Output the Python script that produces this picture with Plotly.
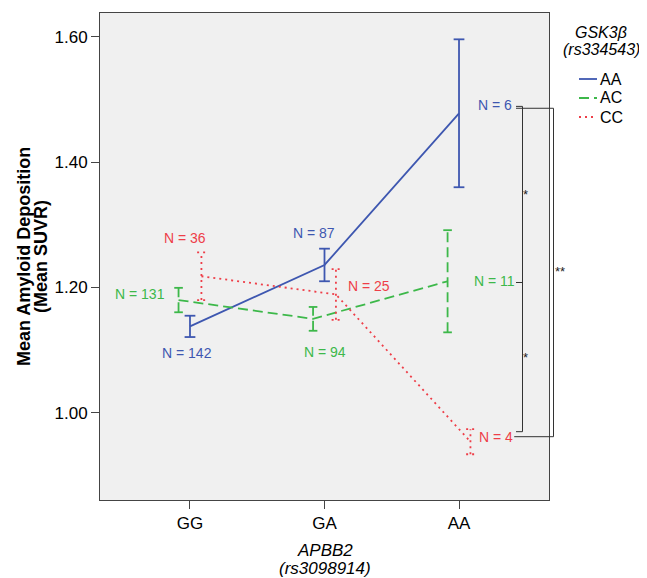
import plotly.graph_objects as go

# ---- data ----
categories = ["GG", "GA", "AA"]
series_names = ["AA", "AC", "CC"]
aa_mean = [1.138, 1.236, 1.478]
aa_err = [0.017, 0.026, 0.118]
ac_mean = [1.180, 1.150, 1.210]
ac_err = [0.0195, 0.019, 0.0815]
cc_mean = [1.218, 1.189, 0.954]
cc_err = [0.038, 0.0405, 0.020]
aa_n = [142, 87, 6]
ac_n = [131, 94, 11]
cc_n = [36, 25, 4]
y_ticks = [1.00, 1.20, 1.40, 1.60]
sig_labels = ["*", "*", "**"]
legend_title = ["GSK3β", "(rs334543)"]
y_title = ["Mean Amyloid Deposition", "(Mean SUVR)"]
x_title = ["APBB2", "(rs3098914)"]

FONT = "Liberation Sans, Arial, sans-serif"
BLUE = "#3E57B0"
GREEN = "#3DB84A"
RED = "#EE3E48"

# layout geometry (page has an ~8px body margin, so the figure is drawn 8px smaller)
W, H = 639, 570
ML, MT, PW, PH = 92, 5, 449, 487
PAGE_OFF = 8


def px(xp):
    """page pixel x -> paper x"""
    return (xp - PAGE_OFF - ML) / PW


def py(yp):
    """page pixel y -> paper y"""
    return 1 - (yp - PAGE_OFF - MT) / PH


styles = [
    dict(name="AA", mean=aa_mean, err=aa_err, n=aa_n, color=BLUE, dash="solid", off=0.0, cap=0.04,
         shifts=[(-3, -27), (-11, 32), (36, 8)]),
    dict(name="AC", mean=ac_mean, err=ac_err, n=ac_n, color=GREEN, dash="10px,5px", off=-0.085, cap=0.032,
         shifts=[(-39, 6), (12, -33), (47, 0)]),
    dict(name="CC", mean=cc_mean, err=cc_err, n=cc_n, color=RED, dash="2px,4px", off=0.085, cap=0.032,
         shifts=[(-16, 38), (33, 8), (26, 5)]),
]

fig = go.Figure()
annotations = []
shapes = []

for s in styles:
    xs = [i + s["off"] for i in range(len(categories))]
    fig.add_trace(go.Scatter(
        x=xs, y=s["mean"], mode="lines", name=s["name"], showlegend=False,
        line=dict(color=s["color"], width=1.8, dash=s["dash"]),
        hoverinfo="skip"))
    ex, ey = [], []
    for x, m, e in zip(xs, s["mean"], s["err"]):
        ex += [x, x, None, x - s["cap"], x + s["cap"], None, x - s["cap"], x + s["cap"], None]
        ey += [m - e, m + e, None, m + e, m + e, None, m - e, m - e, None]
    fig.add_trace(go.Scatter(
        x=ex, y=ey, mode="lines", showlegend=False,
        line=dict(color=s["color"], width=1.8, dash=s["dash"]),
        hoverinfo="skip"))
    for x, m, n, (dx, dy) in zip(xs, s["mean"], s["n"], s["shifts"]):
        annotations.append(dict(
            x=x, y=m, xref="x", yref="y", text=f"N = {n}", showarrow=False,
            xshift=dx, yshift=dy, font=dict(family=FONT, size=14, color=s["color"])))

# significance brackets
br_top, br_mid, br_bot, br_bot2 = aa_mean[2] + 0.011, ac_mean[2] - 0.002, cc_mean[2] + 0.016, cc_mean[2] + 0.008
xl, xi, xo = px(516), px(522.5), px(553.5)
line_st = dict(color="#333333", width=1)
for (x0, y0, x1, y1) in [
    (xl, br_top, xi, br_top), (xi, br_top, xi, br_bot), (xl, br_mid, xi, br_mid), (xl, br_bot, xi, br_bot),
    (xl, br_top - 0.003, xo, br_top - 0.003), (xo, br_top - 0.003, xo, br_bot2), (xl - 0.004, br_bot2, xo, br_bot2),
]:
    shapes.append(dict(type="line", xref="paper", yref="y", x0=x0, y0=y0, x1=x1, y1=y1, line=line_st))

for txt, x, y in zip(sig_labels, [px(530), px(530), px(567)],
                     [(br_top + br_mid) / 2, (br_mid + br_bot) / 2, (br_top + br_bot2) / 2]):
    annotations.append(dict(x=x, y=y, xref="paper", yref="y", text=txt, showarrow=False,
                            font=dict(family=FONT, size=13, color="#222222")))

# legend (drawn manually for compact spacing)
for i, t in enumerate(legend_title):
    annotations.append(dict(x=px(601), y=py(33 + 17 * i), xref="paper", yref="paper",
                            text=f"<i>{t}</i>", showarrow=False, xanchor="center", yanchor="middle",
                            font=dict(family=FONT, size=16, color="black")))
for i, s in enumerate(styles):
    yp = py(79 + 19 * i)
    shapes.append(dict(type="line", xref="paper", yref="paper",
                       x0=px(579), x1=px(597), y0=yp, y1=yp,
                       line=dict(color=s["color"], width=1.8, dash=s["dash"])))
    annotations.append(dict(x=px(598), y=yp, xref="paper", yref="paper", text=s["name"],
                            showarrow=False, xanchor="left", yanchor="middle",
                            font=dict(family=FONT, size=16, color="black")))

# axis titles
for i, t in enumerate(y_title):
    annotations.append(dict(
        x=px(24 + 17 * i), y=py(257), xref="paper", yref="paper", textangle=-90,
        text=f"<b>{t}</b>", showarrow=False, xanchor="center", yanchor="middle",
        font=dict(family=FONT, size=18, color="black")))
for i, t in enumerate(x_title):
    annotations.append(dict(
        x=1, y=py(550 + 18 * i), xref="x", yref="paper",
        text=f"<i>{t}</i>", showarrow=False, xanchor="center", yanchor="middle",
        font=dict(family=FONT, size=17, color="black")))

fig.update_layout(
    width=W, height=H,
    margin=dict(l=ML, r=W - ML - PW, t=MT, b=H - MT - PH, autoexpand=False),
    paper_bgcolor="white", plot_bgcolor="#F0F0F0",
    font=dict(family=FONT, size=17, color="black"),
    showlegend=False,
    xaxis=dict(range=[-0.669, 2.669], tickvals=list(range(len(categories))), ticktext=categories,
               showgrid=False, zeroline=False, showline=True, linecolor="#444444", linewidth=1,
               mirror=True, ticks="outside", ticklen=8, tickcolor="#444444",
               tickfont=dict(family=FONT, size=17)),
    yaxis=dict(range=[0.861, 1.638], tickvals=y_ticks, tickformat=".2f",
               showgrid=False, zeroline=False, showline=True, linecolor="#444444", linewidth=1,
               mirror=True, ticks="outside", ticklen=8, tickcolor="#444444",
               tickfont=dict(family=FONT, size=17)),
    shapes=shapes, annotations=annotations,
)

fig.write_html("out.html")
